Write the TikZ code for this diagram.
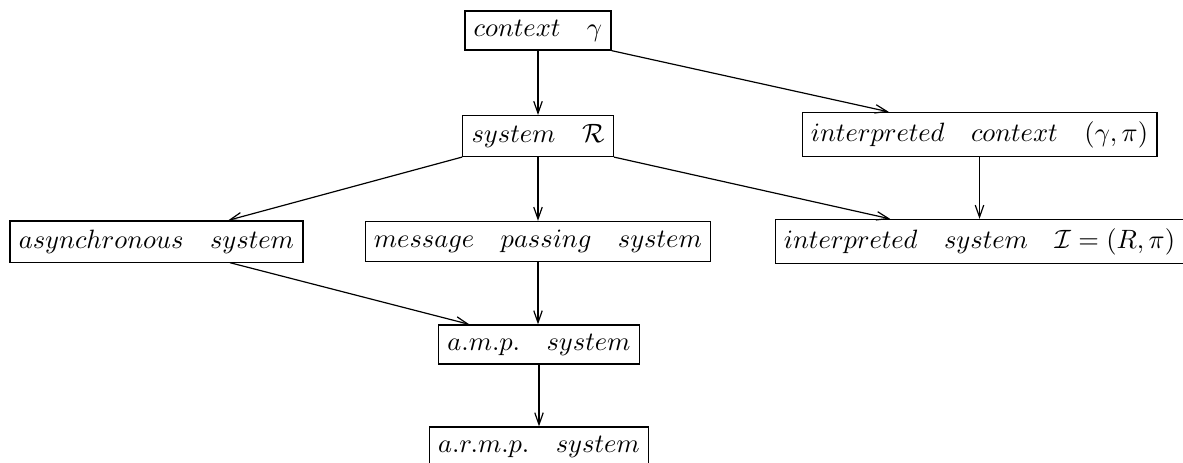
\documentclass[tikz,border=0pt]{standalone}
\usetikzlibrary{arrows.meta,calc}
\begin{document}
\begin{tikzpicture}[x=0.3774pt,y=-0.3774pt,
  box/.style={draw,line width=0.45pt,inner sep=3.33pt,anchor=center},
  conn/.style={line width=0.45pt,-{Straight Barb[length=4.5pt,width=3.2pt]}}]
\useasboundingbox (0,0) rectangle (1183,462);
% boxes
\node[box] (ctx)  at (538,30.5)  {$context\quad\gamma$};
\node[box] (sys)  at (538,136)   {$system\quad\mathcal{R}$};
\node[box] (ictx) at (979.5,134.5) {$interpreted\quad context\quad(\gamma,\pi)$};
\node[box] (asy)  at (156.5,241.5) {$asynchronous\quad system$};
\node[box] (mps)  at (538,241.5) {$message\quad passing\quad system$};
\node[box] (isys) at (979.5,241.5) {$interpreted\quad system\quad\mathcal{I}=(R,\pi)$};
\node[box] (amp)  at (539,344.5) {$a.m.p.\quad system$};
\node[box] (armp) at (539,446.5) {$a.r.m.p.\quad system$};
% connectors
\draw[conn] (ctx.south) -- (ctx.south |- sys.north);
\draw[conn] (ctx.south east) -- ($(ictx.north west)!0.245!(ictx.north east)$);
\draw[conn] (sys.south west) -- ($(asy.north west)!0.744!(asy.north east)$);
\draw[conn] (sys.south) -- (sys.south |- mps.north);
\draw[conn] (sys.south east) -- ($(isys.north west)!0.282!(isys.north east)$);
\draw[conn] (ictx.south) -- (ictx.south |- isys.north);
\draw[conn] ($(asy.south west)!0.75!(asy.south east)$) -- ($(amp.north west)!0.155!(amp.north east)$);
\draw[conn] (mps.south) -- (mps.south |- amp.north);
\draw[conn] (amp.south) -- (amp.south |- armp.north);
\end{tikzpicture}
\end{document}
